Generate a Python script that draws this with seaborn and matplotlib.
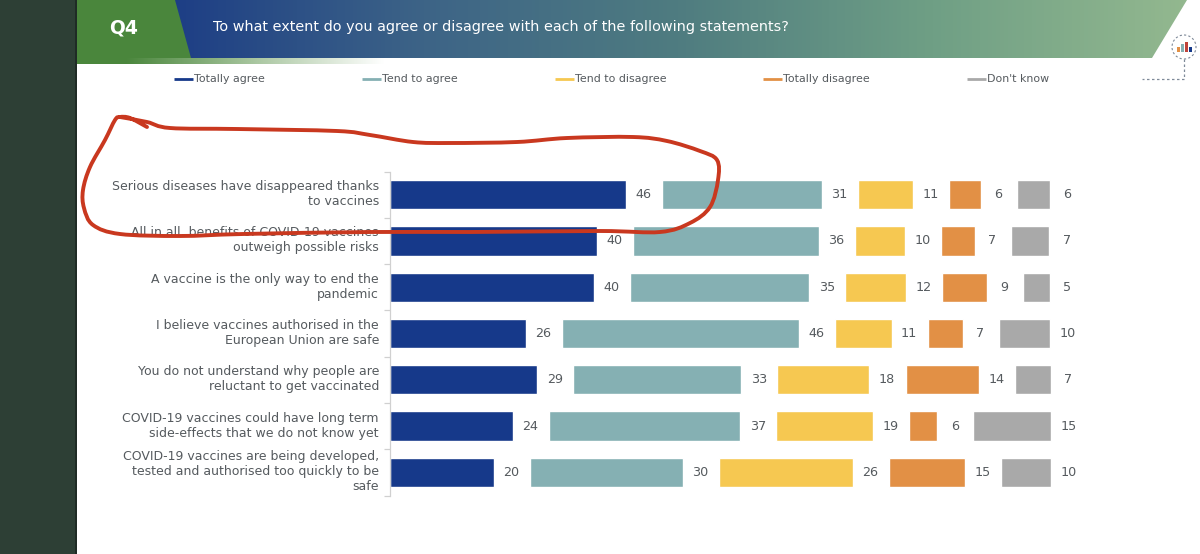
"""Q4 vaccine attitudes slide: gapped stacked bars, with the hand-drawn circle on top."""

import matplotlib

matplotlib.use("Agg")
import matplotlib.pyplot as plt
import numpy as np
import pandas as pd
import seaborn as sns
from matplotlib.colors import LinearSegmentedColormap
from matplotlib.patches import Circle, PathPatch, Polygon, Rectangle
from matplotlib.path import Path
from matplotlib.transforms import Affine2D

statements = [
    "Serious diseases have disappeared thanks\nto vaccines",
    "All in all, benefits of COVID-19 vaccines\noutweigh possible risks",
    "A vaccine is the only way to end the\npandemic",
    "I believe vaccines authorised in the\nEuropean Union are safe",
    "You do not understand why people are\nreluctant to get vaccinated",
    "COVID-19 vaccines could have long term\nside-effects that we do not know yet",
    "COVID-19 vaccines are being developed,\ntested and authorised too quickly to be\nsafe",
]
# bar lengths, the printed labels are these rounded
totally_agree = [45.8, 40.2, 39.6, 26.4, 28.6, 23.9, 20.2]
tend_agree = [31.1, 36.1, 34.8, 46.0, 32.6, 37.1, 29.7]
tend_disagree = [10.6, 9.7, 11.8, 11.0, 17.9, 18.8, 26.0]
totally_disagree = [6.2, 6.6, 8.7, 6.8, 14.2, 5.5, 14.8]
dont_know = [6.4, 7.4, 5.2, 10.0, 7.0, 15.0, 9.7]

series_names = ["Totally agree", "Tend to agree", "Tend to disagree", "Totally disagree", "Don't know"]
series_values = [totally_agree, tend_agree, tend_disagree, totally_disagree, dont_know]
series_colors = ["#16398a", "#85b0b3", "#f6c851", "#e29045", "#a9a9a9"]

GAP = 7  # blank space between segments, in percentage points
TEXT = "#555a5e"
W, H = 1200, 554

sns.set_style("white")
plt.rcParams["font.family"] = ["DejaVu Sans"]

fig = plt.figure(figsize=(12, 5.54), dpi=100)

# page furniture, drawn in pixel coordinates
bg = fig.add_axes([0, 0, 1, 1], zorder=0)
bg.set_xlim(0, W)
bg.set_ylim(H, 0)
bg.axis("off")
bg.add_patch(Rectangle((0, 0), 75, H, color="#2d3f35", lw=0))
bg.add_patch(Rectangle((75, 0), 2, H, color="#1f2b25", lw=0))

banner = LinearSegmentedColormap.from_list(
    "banner", ["#1d3e85", "#3d6487", "#4f7c80", "#6f9f85", "#93b88f"]
)
img = bg.imshow(
    np.linspace(0, 1, 256).reshape(1, -1),
    extent=(170, 1187, 58, 0),
    cmap=banner,
    aspect="auto",
    zorder=1,
)
img.set_clip_path(Polygon([(170, 0), (1187, 0), (1152, 58), (170, 58)], transform=bg.transData))
bg.add_patch(Polygon([(77, 0), (175, 0), (191, 58), (77, 58)], color="#4a863c", lw=0, zorder=2))
bg.add_patch(Rectangle((77, 58), 50, 6, color="#4a863c", lw=0, zorder=2))
fade = LinearSegmentedColormap.from_list("fade", ["#4a863c", "#a9c6a0", "#ffffff"])
bg.imshow(np.linspace(0, 1, 128).reshape(1, -1), extent=(125, 385, 64, 58), cmap=fade, aspect="auto", zorder=2)
bg.set_xlim(0, W)
bg.set_ylim(H, 0)

bg.text(124, 28, "Q4", color="white", fontsize=13.5, fontweight="bold", ha="center", va="center", zorder=3)
bg.text(
    213, 27,
    "To what extent do you agree or disagree with each of the following statements?",
    color="white", fontsize=10.35, va="center", zorder=3,
)

# legend with the slide's uneven spacing
legend_x = [174, 362, 555, 763, 967]
for x, name, color in zip(legend_x, series_names, series_colors):
    bg.plot([x, x + 19], [79, 79], color=color, lw=2, solid_capstyle="butt")
    bg.text(x + 20, 79, name, color=TEXT, fontsize=7.9, va="center")

# chart icon, top right
bg.add_patch(Circle((1184, 47), 12, fill=False, ec="#7f8a99", lw=0.8, ls=(0, (2, 2)), zorder=3))
for x, top, color in zip([1178, 1182, 1186, 1190], [47, 44, 42, 47], ["#e29045", "#85b0b3", "#c0433a", "#16398a"]):
    bg.add_patch(Rectangle((x - 1.5, top), 3, 52 - top, color=color, lw=0, zorder=3))
bg.plot([1184, 1184, 1142], [59, 79, 79], color="#7f8a99", lw=0.9, ls=(0, (2, 2)), zorder=3)

# gapped stacked bars
px_per_unit = 5.15
ax = fig.add_axes([390 / W, 1 - 495.5 / H, 710 / W, 324 / H], zorder=1)
ax.patch.set_alpha(0)
left = np.zeros(len(statements))
for name, values, color in zip(series_names, series_values, series_colors):
    values = np.array(values)
    df = pd.DataFrame({"statement": statements, "value": values})
    sns.barplot(
        data=df, y="statement", x="value", left=left, color=color,
        saturation=1, width=0.63, ax=ax,
    )
    for i, v in enumerate(values):
        ax.text(left[i] + v + 3.4, i, f"{v:.0f}", ha="center", va="center", color=TEXT, fontsize=9.2)
    left = left + values + GAP

ax.set_xlim(0, 710 / px_per_unit)
ax.set_ylim(6.5, -0.5)
ax.set_xlabel("")
ax.set_ylabel("")
ax.xaxis.set_visible(False)
for side in ["top", "right", "bottom"]:
    ax.spines[side].set_visible(False)
ax.spines["left"].set_color("#d0d0d0")
ax.spines["left"].set_linewidth(0.9)
ax.set_yticks(np.arange(-0.5, 7), minor=True)
ax.tick_params(axis="y", which="minor", length=4, color="#d0d0d0", width=0.9, left=True)
ax.tick_params(axis="y", which="major", length=0, pad=8, labelsize=9.0, labelcolor=TEXT)
# the slide's labels sit a little higher than centred on the bars
label_shift = Affine2D().translate(0, 3)
for label in ax.get_yticklabels():
    label.set_ha("right")
    label.set_multialignment("right")
    label.set_linespacing(1.2)
    label.set_transform(label.get_transform() + label_shift)

# red marker scribble round the first row
scribble = np.array([
    (147, 127), (130, 118), (120, 117), (115, 120), (105, 140), (90, 167), (83, 190),
    (84, 208), (93, 225), (120, 234), (180, 236), (243, 234), (370, 232), (470, 232),
    (600, 231), (660, 232), (690, 223), (710, 207), (718, 180), (717, 160), (700, 151),
    (667, 141), (633, 137), (567, 138), (517, 142), (450, 143), (413, 142), (370, 135),
    (337, 131), (237, 129), (170, 128), (147, 122), (120, 117),
], dtype=float)

# catmull-rom through the points so the stroke stays smooth
verts = [scribble[0]]
codes = [Path.MOVETO]
ends = np.vstack([scribble[0], scribble, scribble[-1]])
for i in range(1, len(ends) - 2):
    p0, p1, p2, p3 = ends[i - 1], ends[i], ends[i + 1], ends[i + 2]
    verts += [p1 + (p2 - p0) / 6, p2 - (p3 - p1) / 6, p2]
    codes += [Path.CURVE4] * 3

over = fig.add_axes([0, 0, 1, 1], zorder=2)
over.set_xlim(0, W)
over.set_ylim(H, 0)
over.axis("off")
over.add_patch(PathPatch(Path(verts, codes), fill=False, ec="#c9381f", lw=2.8, capstyle="round"))

fig.savefig("out.png", dpi=100)
